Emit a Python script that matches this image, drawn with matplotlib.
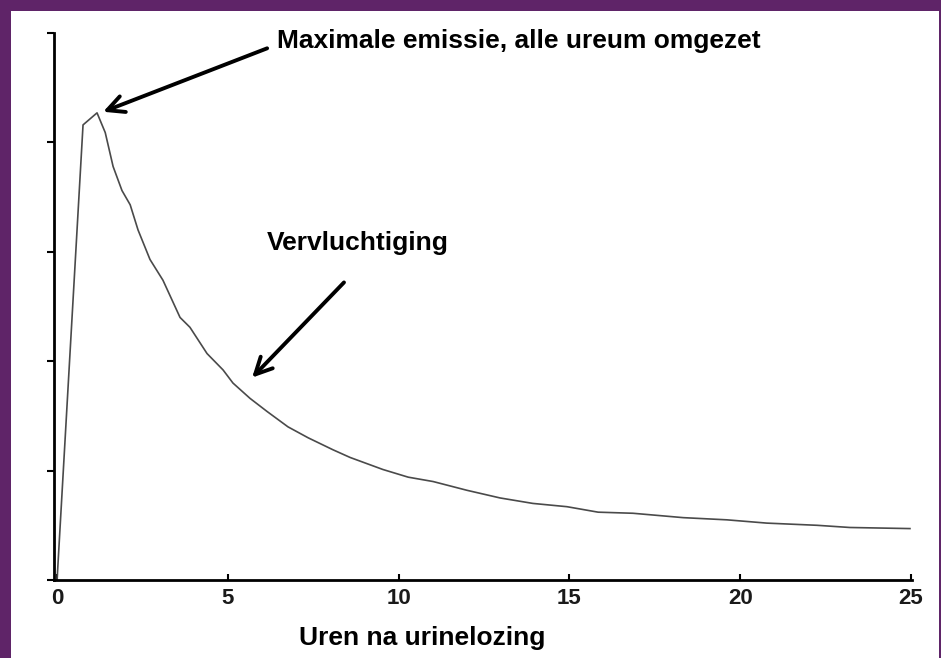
import matplotlib
matplotlib.use('Agg')
import matplotlib.pyplot as plt
from matplotlib.patches import Rectangle

# Uren na urinelozing (x) en emissie (y, willekeurige eenheid)
hours = [0, 0.76, 1.17, 1.41, 1.64, 1.90, 2.14, 2.37, 2.72, 3.10, 3.60, 3.89,
         4.39, 4.86, 5.15, 5.65, 6.15, 6.76, 7.35, 8.08, 8.58, 9.54, 10.28,
         11.01, 12.0, 12.97, 13.93, 14.93, 15.84, 16.86, 18.33, 19.61, 20.78,
         22.25, 23.21, 24.97]
emission = [0, 4.16, 4.27, 4.09, 3.78, 3.56, 3.43, 3.20, 2.93, 2.74, 2.40, 2.31,
            2.07, 1.92, 1.80, 1.66, 1.54, 1.40, 1.30, 1.19, 1.12, 1.01, 0.94,
            0.90, 0.82, 0.75, 0.70, 0.67, 0.62, 0.61, 0.57, 0.55, 0.52,
            0.50, 0.48, 0.47]

x_ticks = [0, 5, 10, 15, 20, 25]
y_ticks = [0, 1, 2, 3, 4, 5]

PURPLE = '#5f2468'
W, H = 941, 658

fig = plt.figure(figsize=(W / 100, H / 100), dpi=100)
fig.patch.set_facecolor(PURPLE)
# white panel inside the purple frame
fig.add_artist(Rectangle((11 / W, 0), (939 - 11) / W, (H - 11) / H,
                         transform=fig.transFigure, facecolor='white',
                         edgecolor='none', zorder=-5))

ax = fig.add_axes([54 / W, (H - 580) / H, (912 - 54) / W, (580 - 33) / H])
ax.set_zorder(2)
ax.set_facecolor('none')
ax.plot(hours, emission, color='#4a4a4a', lw=1.2)

ax.set_xlim(-0.09, 25.03)
ax.set_ylim(0, 5)
ax.set_xticks(x_ticks)
ax.set_yticks(y_ticks)
ax.set_yticklabels([])
ax.set_xticklabels([str(t) for t in x_ticks], fontsize=16, fontweight='bold',
                   fontfamily='Liberation Sans', color='#1a1a1a')

for side in ['top', 'right']:
    ax.spines[side].set_visible(False)
for side in ['left', 'bottom']:
    ax.spines[side].set_linewidth(2.0)
ax.tick_params(axis='y', direction='out', length=5, width=1.5)
ax.tick_params(axis='x', direction='in', length=4, width=1.5, pad=6)

txt = dict(fontsize=19, fontweight='bold', fontfamily='Liberation Sans',
           color='black')

ax.annotate('', xy=(1.35, 4.28), xytext=(6.15, 4.86),
            arrowprops=dict(arrowstyle='->', lw=2.8, mutation_scale=30,
                            color='black', shrinkA=0, shrinkB=0),
            annotation_clip=False)
ax.text(6.44, 4.86, 'Maximale emissie, alle ureum omgezet', ha='left',
        va='baseline', clip_on=False, **txt)

ax.annotate('', xy=(5.71, 1.85), xytext=(8.40, 2.72),
            arrowprops=dict(arrowstyle='->', lw=2.8, mutation_scale=30,
                            color='black', shrinkA=0, shrinkB=0))
ax.text(6.15, 3.02, 'Vervluchtiging', ha='left', va='baseline', **txt)

fig.text(422.5 / W, (H - 645) / H, 'Uren na urinelozing', ha='center',
         va='baseline', **txt)

fig.savefig('out.png', dpi=100, facecolor=fig.get_facecolor())
